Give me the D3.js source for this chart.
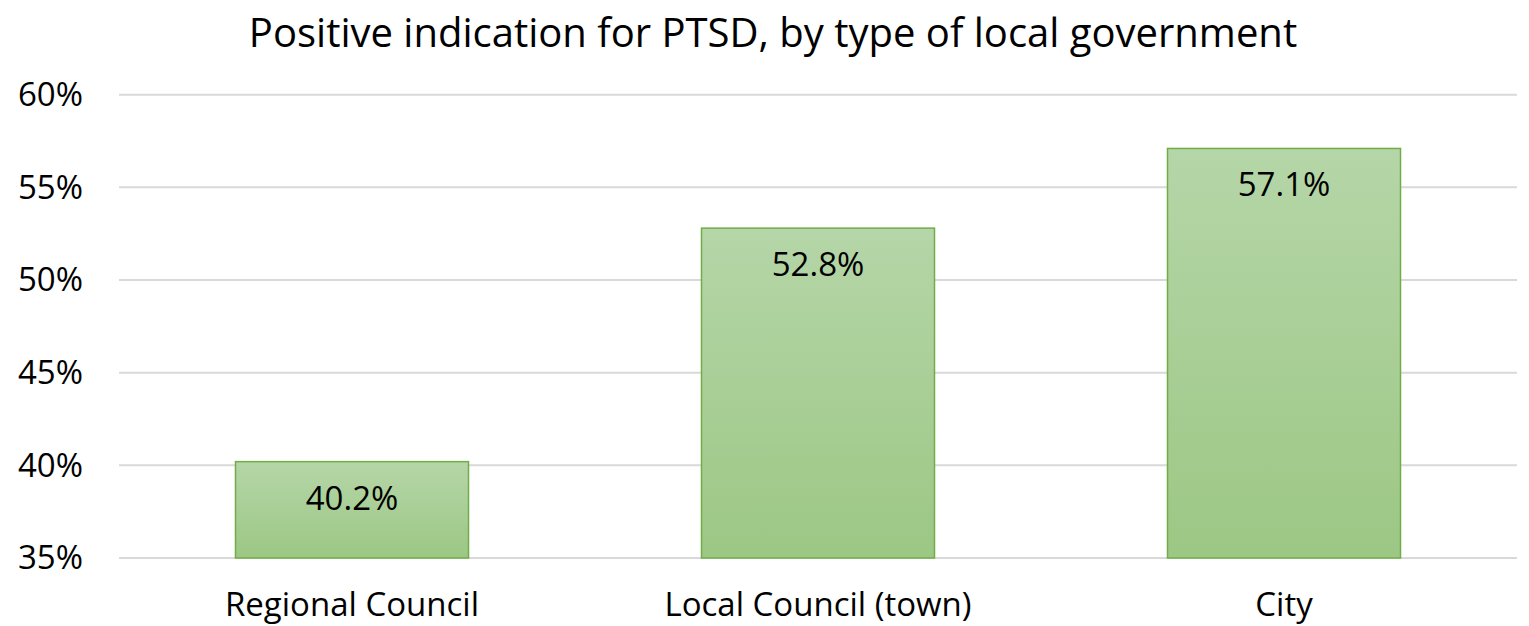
<!doctype html>
<html lang="en">
<head>
  <meta charset="utf-8">
  <title>PTSD by local government</title>
  <style>
  body { margin: 0; background: #fff; }
  svg { display: block; font-family: "Open Sans", sans-serif; }
  .grid line { stroke: #d9d9d9; stroke-width: 2; }
  .axis text { fill: #000; font-size: 33px; font-family: "Open Sans", sans-serif; }
  .axis path, .axis line { display: none; }
  </style>
</head>
<body>
  <div id="chart"></div>
  <script src="https://d3js.org/d3.v7.min.js"></script>
  <script>
var categories = ["Regional Council", "Local Council (town)", "City"];
var values = [40.2, 52.8, 57.1];
var yTicks = [35, 40, 45, 50, 55, 60];
var title = "Positive indication for PTSD, by type of local government";

(function() {
  var width = 1529, height = 626;
  var margin = {top: 94.7, right: 12, bottom: 68, left: 119};

  var svg = d3.select("#chart").append("svg")
      .attr("width", width)
      .attr("height", height);

  var defs = svg.append("defs");
  var grad = defs.append("linearGradient")
      .attr("id", "barFill")
      .attr("x1", 0).attr("y1", 0).attr("x2", 0).attr("y2", 1);
  grad.append("stop").attr("offset", "0%").attr("stop-color", "#b5d6a8");
  grad.append("stop").attr("offset", "100%").attr("stop-color", "#9cc784");

  var x = d3.scaleBand()
      .domain(categories)
      .range([margin.left, width - margin.right])
      .paddingInner(0.5)
      .paddingOuter(0.25);

  var y = d3.scaleLinear()
      .domain([35, 60])
      .range([height - margin.bottom, margin.top]);

  // gridlines
  svg.append("g").attr("class", "grid")
    .selectAll("line")
    .data(yTicks)
    .enter().append("line")
      .attr("x1", margin.left)
      .attr("x2", width - margin.right)
      .attr("y1", function(d) { return y(d); })
      .attr("y2", function(d) { return y(d); });

  // y axis labels
  svg.append("g").attr("class", "axis")
      .attr("transform", "translate(83,0)")
      .call(d3.axisLeft(y).tickValues(yTicks).tickSize(0).tickPadding(0)
        .tickFormat(function(d) { return d + "%"; }))
      .selectAll("text").attr("dy", "0.33em");

  // bars
  svg.append("g").selectAll("rect")
      .data(values)
      .enter().append("rect")
      .attr("x", function(d, i) { return x(categories[i]); })
      .attr("y", function(d) { return y(d); })
      .attr("width", x.bandwidth())
      .attr("height", function(d) { return y(35) - y(d); })
      .attr("fill", "url(#barFill)")
      .attr("stroke", "#70ad47")
      .attr("stroke-width", 1.5);

  // value labels
  svg.append("g").selectAll("text")
      .data(values)
      .enter().append("text")
      .attr("x", function(d, i) { return x(categories[i]) + x.bandwidth() / 2; })
      .attr("y", function(d) { return y(d) + 48; })
      .attr("text-anchor", "middle")
      .attr("font-size", 33)
      .attr("fill", "#000")
      .text(function(d) { return d.toFixed(1) + "%"; });

  // x axis labels
  svg.append("g").attr("class", "axis")
      .attr("transform", "translate(0," + y(35) + ")")
      .call(d3.axisBottom(x).tickSize(0).tickPadding(0))
      .selectAll("text").attr("y", 58).attr("dy", 0);

  svg.append("text")
      .attr("x", 773)
      .attr("y", 47)
      .attr("text-anchor", "middle")
      .attr("font-size", 40)
      .attr("fill", "#000")
      .text(title);
})();
  </script>
</body>
</html>
